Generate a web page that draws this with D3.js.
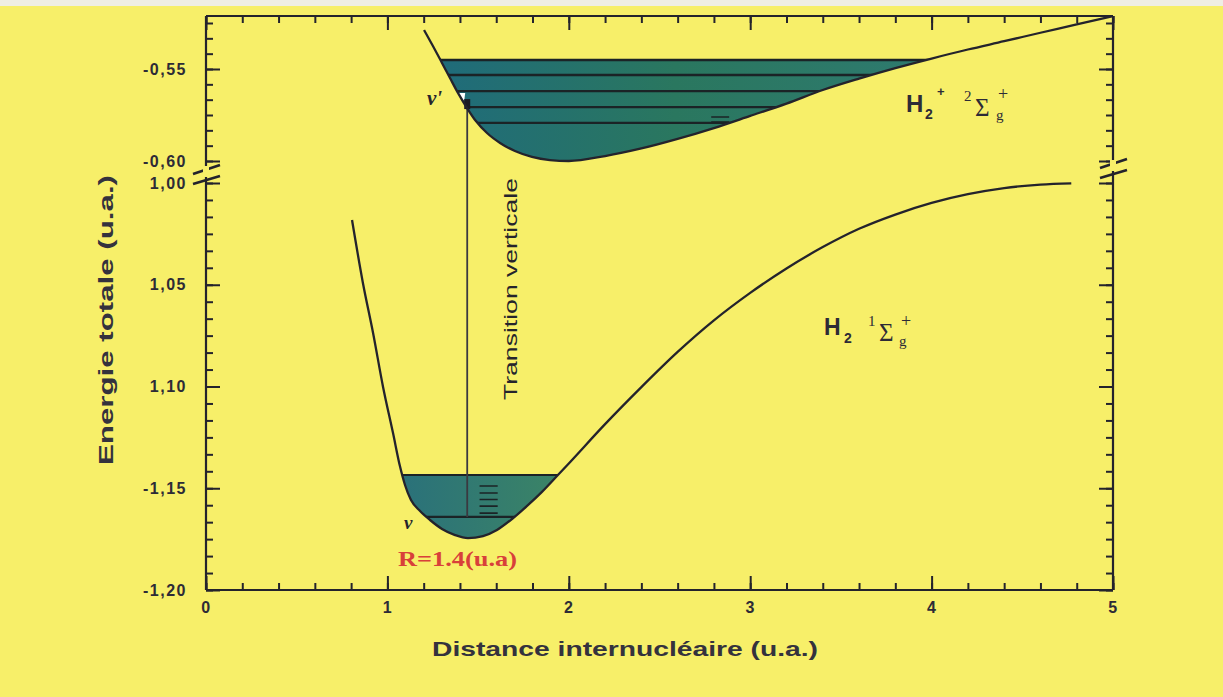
<!DOCTYPE html>
<html><head><meta charset="utf-8">
<script src="https://cdn.jsdelivr.net/npm/d3@7"></script>
<style>body{margin:0;background:#f7ef69;} svg{display:block}</style>
</head><body>
<svg id="c" width="1223" height="697"></svg>
<script>
// ---------- data ----------
const xTicks = [0, 1, 2, 3, 4, 5];
const yTicksUpper = [-0.55, -0.60];
const yLabelsUpper = ["-0,55", "-0,60"];
const yTicksLower = [-1.00, -1.05, -1.10, -1.15, -1.20];
const yLabelsLower = ["1,00", "1,05", "1,10", "-1,15", "-1,20"];

// H2 1Σg+ (ground state) total energy vs R
const groundR = [0.805, 0.865, 0.921, 0.976, 1.031, 1.069, 1.097, 1.130, 1.180, 1.235, 1.301, 1.373, 1.444, 1.527, 1.604, 1.687, 1.770, 1.852, 1.940, 2.0, 2.2, 2.4, 2.6, 2.8, 3.0, 3.2, 3.4, 3.6, 3.8, 4.0, 4.2, 4.4, 4.6, 4.77];
const groundE = [-1.0182, -1.0491, -1.0737, -1.1002, -1.1229, -1.1391, -1.1484, -1.1558, -1.1612, -1.1656, -1.1700, -1.1730, -1.1745, -1.1735, -1.1705, -1.1651, -1.1587, -1.1518, -1.1435, -1.1378, -1.1185, -1.1003, -1.0830, -1.0675, -1.0540, -1.0420, -1.0315, -1.0225, -1.0155, -1.0098, -1.0055, -1.0025, -1.0008, -1.0002];

// H2+ 2Σg+ (ion) total energy vs R
const ionR = [1.202, 1.251, 1.301, 1.345, 1.389, 1.439, 1.488, 1.549, 1.621, 1.703, 1.797, 1.896, 2.0, 2.2, 2.4, 2.6, 2.8, 3.0, 3.2, 3.4, 3.6, 3.8, 4.0, 4.2, 4.4, 4.6, 4.8, 5.0];
const ionE = [-0.5288, -0.5375, -0.5467, -0.5549, -0.5630, -0.5712, -0.5783, -0.5848, -0.5902, -0.5946, -0.5978, -0.5995, -0.6000, -0.5973, -0.5932, -0.5880, -0.5821, -0.5755, -0.5688, -0.5614, -0.5552, -0.5495, -0.5443, -0.5394, -0.5349, -0.5303, -0.5258, -0.5212];

// vibrational levels
const ionLevels = [-0.5451, -0.5533, -0.5620, -0.5707, -0.5793];
const groundLevels = [-1.1435, -1.1641];
const transitionR = 1.44;
const hatchGroundE = [-1.1489, -1.1523, -1.1555, -1.1588, -1.1622];
const hatchGroundR = [1.508, 1.608];
const hatchIonE = [-0.5761, -0.5788];
const hatchIonR = [2.785, 2.884];

// ---------- layout ----------
const L = 206, Rt = 1113, T = 16, B = 590;
const svg = d3.select("#c");
const x = d3.scaleLinear([0, 5], [L, Rt]);
const yU = d3.scaleLinear([-0.60, -0.55], [161, 69]);
const yL = d3.scaleLinear([-1.20, -1.00], [B, 183]);
const ink = "#24232c", txt = "#2d2b36", bg = "#f7ef69";

svg.append("rect").attr("width", 1223).attr("height", 697).attr("fill", bg);
svg.append("rect").attr("width", 1223).attr("height", 6).attr("fill", "#efeee4");

const defs = svg.append("defs");
const g1 = defs.append("linearGradient").attr("id", "gU").attr("gradientUnits", "userSpaceOnUse")
  .attr("x1", 430).attr("x2", 920).attr("y1", 0).attr("y2", 0);
g1.append("stop").attr("offset", 0).attr("stop-color", "#1f6b7b");
g1.append("stop").attr("offset", 0.5).attr("stop-color", "#2a775f");
g1.append("stop").attr("offset", 1).attr("stop-color", "#2e7a6e");
const g2 = defs.append("linearGradient").attr("id", "gL").attr("gradientUnits", "userSpaceOnUse")
  .attr("x1", 400).attr("x2", 560).attr("y1", 0).attr("y2", 0);
g2.append("stop").attr("offset", 0).attr("stop-color", "#2a717a");
g2.append("stop").attr("offset", 1).attr("stop-color", "#3b8466");

const ground = groundR.map((r, i) => [r, groundE[i]]);
const ion = ionR.map((r, i) => [r, ionE[i]]);
const lineL = d3.line().x(d => x(d[0])).y(d => yL(d[1])).curve(d3.curveMonotoneX);
const lineU = d3.line().x(d => x(d[0])).y(d => yU(d[1])).curve(d3.curveMonotoneX);

defs.append("clipPath").attr("id", "wellU").append("path").attr("d", lineU(ion) + "Z");
defs.append("clipPath").attr("id", "wellL").append("path").attr("d", lineL(ground) + "Z");

// wells fill
const wU = svg.append("g").attr("clip-path", "url(#wellU)");
wU.append("rect").attr("x", L).attr("width", Rt - L).attr("y", yU(ionLevels[0])).attr("height", 200).attr("fill", "url(#gU)");
wU.selectAll("line.lv").data(ionLevels).join("line").attr("x1", L).attr("x2", Rt)
  .attr("y1", d => yU(d)).attr("y2", d => yU(d)).attr("stroke", "#1b2326").attr("stroke-width", 2.4);
wU.selectAll("line.h").data(hatchIonE).join("line").attr("x1", x(hatchIonR[0])).attr("x2", x(hatchIonR[1]))
  .attr("y1", d => yU(d)).attr("y2", d => yU(d)).attr("stroke", "#1b2326").attr("stroke-width", 1.5);

const wL = svg.append("g").attr("clip-path", "url(#wellL)");
wL.append("rect").attr("x", L).attr("width", Rt - L).attr("y", yL(groundLevels[0])).attr("height", 200).attr("fill", "url(#gL)");
wL.selectAll("line.lv").data(groundLevels).join("line").attr("x1", L).attr("x2", Rt)
  .attr("y1", d => yL(d)).attr("y2", d => yL(d)).attr("stroke", "#1b2326").attr("stroke-width", 2.2);
wL.selectAll("line.h").data(hatchGroundE).join("line").attr("x1", x(hatchGroundR[0])).attr("x2", x(hatchGroundR[1]))
  .attr("y1", d => yL(d)).attr("y2", d => yL(d)).attr("stroke", "#1b2326").attr("stroke-width", 1.6);

// transition line
svg.append("line").attr("x1", x(transitionR)).attr("x2", x(transitionR))
  .attr("y1", yL(groundLevels[1])).attr("y2", yU(ionLevels[3]))
  .attr("stroke", "#3a3940").attr("stroke-width", 1.8);
// v' marker
const vx = x(transitionR), vy = yU(ionLevels[3]);
svg.append("path").attr("d", `M${vx-10},${vy-14}L${vx-2},${vy-14}L${vx-3},${vy-6}Z`).attr("fill", "#ffffff");
svg.append("rect").attr("x", vx - 3).attr("y", vy - 8).attr("width", 6).attr("height", 10).attr("fill", "#1b1b22");

// curves
svg.append("path").attr("d", lineL(ground)).attr("fill", "none").attr("stroke", ink).attr("stroke-width", 2.3);
svg.append("path").attr("d", lineU(ion)).attr("fill", "none").attr("stroke", ink).attr("stroke-width", 2.3);

// ---------- axes ----------
const xMinor = d3.range(0, 26).map(i => i * 0.2);
const fontTick = "bold 16px 'Liberation Sans', Arial, sans-serif";
function styleAxis(g) {
  g.select(".domain").remove();
  g.selectAll(".tick line").attr("stroke", ink).attr("stroke-width", 2);
  g.selectAll("text").style("font", fontTick).style("letter-spacing", "1.5px").attr("fill", txt);
}
// bottom
svg.append("g").attr("transform", `translate(0,${B})`)
  .call(d3.axisBottom(x).tickValues(xMinor).tickFormat("").tickSize(-7)).call(styleAxis);
svg.append("g").attr("transform", `translate(0,${B})`)
  .call(d3.axisBottom(x).tickValues(xTicks).tickFormat(d3.format("d")).tickSize(-14).tickPadding(12)).call(styleAxis);
// top
svg.append("g").attr("transform", `translate(0,${T})`)
  .call(d3.axisTop(x).tickValues(xMinor).tickFormat("").tickSize(-7)).call(styleAxis);
svg.append("g").attr("transform", `translate(0,${T})`)
  .call(d3.axisTop(x).tickValues(xTicks).tickFormat("").tickSize(-14)).call(styleAxis);

const stepY = 0.05 / 6;
const upMinor = d3.range(0, 10).map(k => -0.60 + k * stepY).filter(v => yU(v) > T + 3);
const loMinor = d3.range(0, 25).map(k => -1.20 + k * stepY);
function yAxes(xpos, gen, labels) {
  svg.append("g").attr("transform", `translate(${xpos},0)`)
    .call(gen(yU).tickValues(upMinor).tickFormat("").tickSize(-7)).call(styleAxis);
  svg.append("g").attr("transform", `translate(${xpos},0)`)
    .call(gen(yL).tickValues(loMinor).tickFormat("").tickSize(-7)).call(styleAxis);
  svg.append("g").attr("transform", `translate(${xpos},0)`)
    .call(gen(yU).tickValues(yTicksUpper).tickFormat((d, i) => labels ? yLabelsUpper[i] : "").tickSize(-14).tickPadding(19)).call(styleAxis);
  svg.append("g").attr("transform", `translate(${xpos},0)`)
    .call(gen(yL).tickValues(yTicksLower).tickFormat((d, i) => labels ? yLabelsLower[i] : "").tickSize(-14).tickPadding(19)).call(styleAxis);
}
yAxes(L, d3.axisLeft, true);
yAxes(Rt, d3.axisRight, false);

// frame with breaks
const brk = (yU(-0.60) + yL(-1.00)) / 2;
const frame = svg.append("g").attr("stroke", ink).attr("stroke-width", 2.2).attr("fill", "none");
frame.append("path").attr("d", `M${L},${T}H${Rt}M${L},${B}H${Rt}`);
[[L, 0], [Rt, -6]].forEach(([xx, off]) => {
  const b = brk + off;
  frame.append("path").attr("d", `M${xx},${T}V${b - 6}M${xx},${b + 5}V${B}`);
  svg.append("rect").attr("x", xx - 3).attr("y", b - 6).attr("width", 6).attr("height", 11).attr("fill", bg);
  frame.append("path").attr("stroke-width", 2.6)
    .attr("d", `M${xx - 13},${b + 2}L${xx + 14},${b - 7}M${xx - 13},${b + 12}L${xx + 14},${b + 4}`);
});

// ---------- texts ----------
const sans = "'Liberation Sans', Arial, sans-serif";
const serif = "'Liberation Serif', 'Times New Roman', serif";
svg.append("text").attr("transform", "translate(113,320) rotate(-90)").attr("text-anchor", "middle")
  .attr("textLength", 290).attr("lengthAdjust", "spacingAndGlyphs")
  .style("font", `bold 21px ${sans}`).attr("fill", "#34323d").text("Energie totale (u.a.)");
svg.append("text").attr("x", 625).attr("y", 656).attr("text-anchor", "middle")
  .attr("textLength", 386).attr("lengthAdjust", "spacingAndGlyphs")
  .style("font", `bold 21px ${sans}`).attr("fill", "#34323d").text("Distance internucléaire (u.a.)");
svg.append("text").attr("transform", "translate(517,289) rotate(-90)").attr("text-anchor", "middle")
  .attr("textLength", 222).attr("lengthAdjust", "spacingAndGlyphs")
  .style("font", `18px ${sans}`).attr("fill", "#25242c").text("Transition verticale");

svg.append("text").attr("x", 398).attr("y", 566).attr("textLength", 119).attr("lengthAdjust", "spacingAndGlyphs")
  .style("font", `bold 22px ${serif}`).attr("fill", "#d8403a").text("R=1.4(u.a)");
svg.append("text").attr("x", 427).attr("y", 105).style("font", `italic bold 21px ${serif}`).attr("fill", "#25242c").text("ν'");
svg.append("text").attr("x", 404).attr("y", 529).style("font", `italic bold 19px ${serif}`).attr("fill", "#25242c").text("ν");

function put(xx, yy, s, font) {
  svg.append("text").attr("x", xx).attr("y", yy).style("font", font).attr("fill", txt).text(s);
}
// H2+ 2Σg+
put(906, 112, "H", `bold 24px ${sans}`);
put(925, 119, "2", `bold 14px ${sans}`);
put(937, 96, "+", `bold 13px ${sans}`);
put(964, 101, "2", `15px ${serif}`);
put(975, 116, "Σ", `25px ${serif}`);
put(996, 120, "g", `15px ${serif}`);
put(998, 100, "+", `18px ${serif}`);
// H2 1Σg+
put(824, 335, "H", `bold 23px ${sans}`);
put(844, 343, "2", `bold 14px ${sans}`);
put(868, 326, "1", `15px ${serif}`);
put(879, 341, "Σ", `25px ${serif}`);
put(899, 346, "g", `15px ${serif}`);
put(901, 327, "+", `18px ${serif}`);
</script>
</body></html>
